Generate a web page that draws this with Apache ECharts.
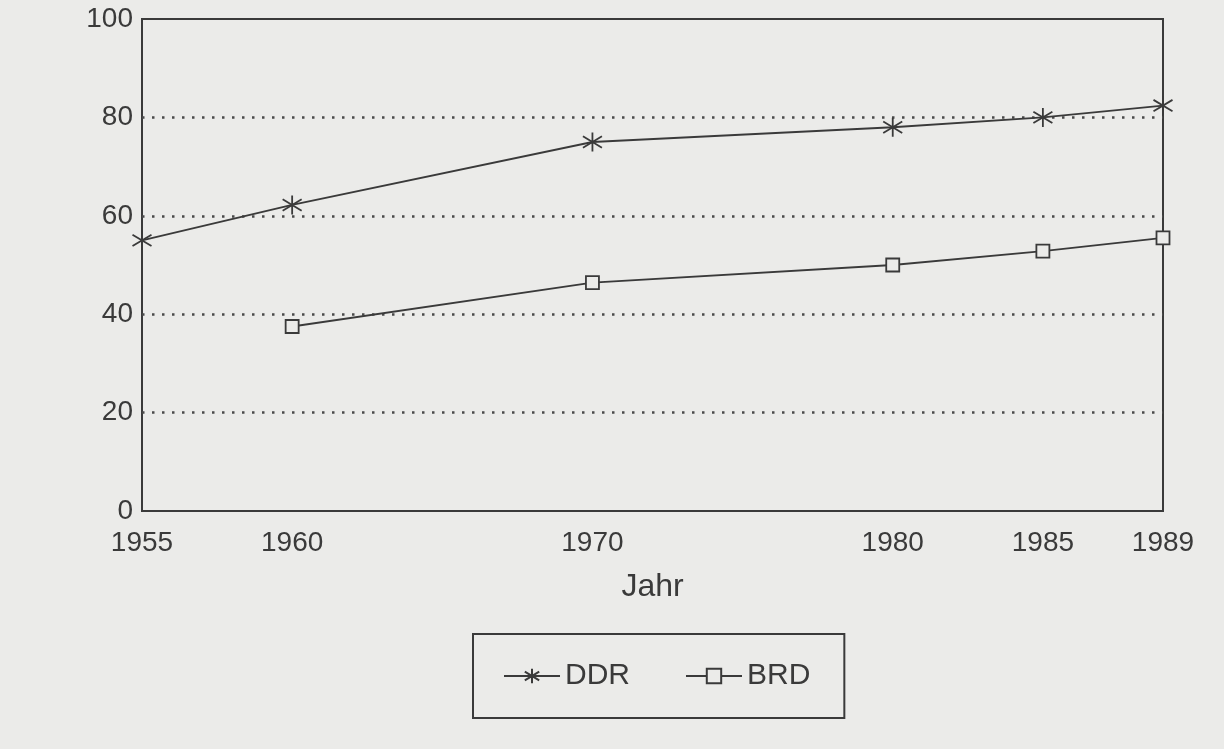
<!DOCTYPE html>
<html>
<head>
<meta charset="utf-8">
<script src="https://cdn.jsdelivr.net/npm/echarts@6/dist/echarts.min.js"></script>
<style>
  html, body { margin: 0; padding: 0; background: #ebebe9; }
  #chart { width: 1224px; height: 749px; }
</style>
</head>
<body>
<div id="chart"></div>
<script>
var years = [1955, 1960, 1970, 1980, 1985, 1989];
var yearLabels = [1955, 1960, 1970, 1980, 1985, 1989];
var ddr = [55, 62.2, 75, 78, 80, 82.4];
var brd = [null, 37.5, 46.4, 50, 52.8, 55.5];
var yTicks = [0, 20, 40, 60, 80, 100];

var ink = '#3a3a3a';
var font = 'Liberation Sans, Arial, sans-serif';
// asterisk: vertical stroke plus two diagonals
var star = 'path://M0,-10L0,10M-10,-6L10,6M-10,6L10,-6';

function pairs(vals) {
    return years.map(function (y, i) { return vals[i] == null ? null : [y, vals[i]]; })
        .filter(function (p) { return p; });
}

var chart = echarts.init(document.getElementById('chart'));

var option = {
    backgroundColor: '#ebebe9',
    animation: false,
    grid: {
        left: 142,
        right: 61,
        top: 19,
        bottom: 238,
        show: true,
        borderColor: ink,
        borderWidth: 2,
        backgroundColor: 'transparent'
    },
    xAxis: {
        type: 'value',
        min: 1955,
        max: 1989,
        name: 'Jahr',
        nameLocation: 'middle',
        nameGap: 60,
        nameTextStyle: { fontSize: 32, color: ink, fontFamily: font },
        axisLine: { show: false },
        axisTick: { show: false },
        splitLine: { show: false },
        axisLabel: {
            customValues: yearLabels,
            fontSize: 28,
            color: ink,
            fontFamily: font,
            margin: 18,
            formatter: function (v) { return String(v); }
        }
    },
    yAxis: {
        type: 'value',
        min: 0,
        max: 100,
        interval: 20,
        axisLine: { show: false },
        axisTick: { show: false },
        axisLabel: {
            fontSize: 28,
            color: ink,
            fontFamily: font,
            margin: 9,
            formatter: function (v) { return yTicks.indexOf(v) >= 0 ? String(v) : ''; },
            showMinLabel: true,
            showMaxLabel: true
        },
        splitLine: {
            show: true,
            showMinLine: false,
            showMaxLine: false,
            lineStyle: { color: '#4a4a4a', type: [2.5, 7.5], width: 2.5 }
        }
    },
    legend: {
        left: 473,
        top: 634,
        padding: [27, 34, 27, 30],
        itemGap: 55,
        itemWidth: 56,
        itemHeight: 18,
        borderColor: ink,
        borderWidth: 2,
        textStyle: { fontSize: 30, color: ink, fontFamily: font },
        data: ['DDR', 'BRD']
    },
    series: [
        {
            name: 'DDR',
            type: 'line',
            data: pairs(ddr),
            symbol: star,
            symbolSize: 19,
            lineStyle: { color: ink, width: 1.8 },
            itemStyle: { color: 'none', borderColor: ink, borderWidth: 1.8 }
        },
        {
            name: 'BRD',
            type: 'line',
            data: pairs(brd),
            symbol: 'rect',
            symbolSize: 13,
            lineStyle: { color: ink, width: 1.8 },
            itemStyle: { color: '#ebebe9', borderColor: ink, borderWidth: 1.8 }
        }
    ]
};

chart.setOption(option);
</script>
</body>
</html>
